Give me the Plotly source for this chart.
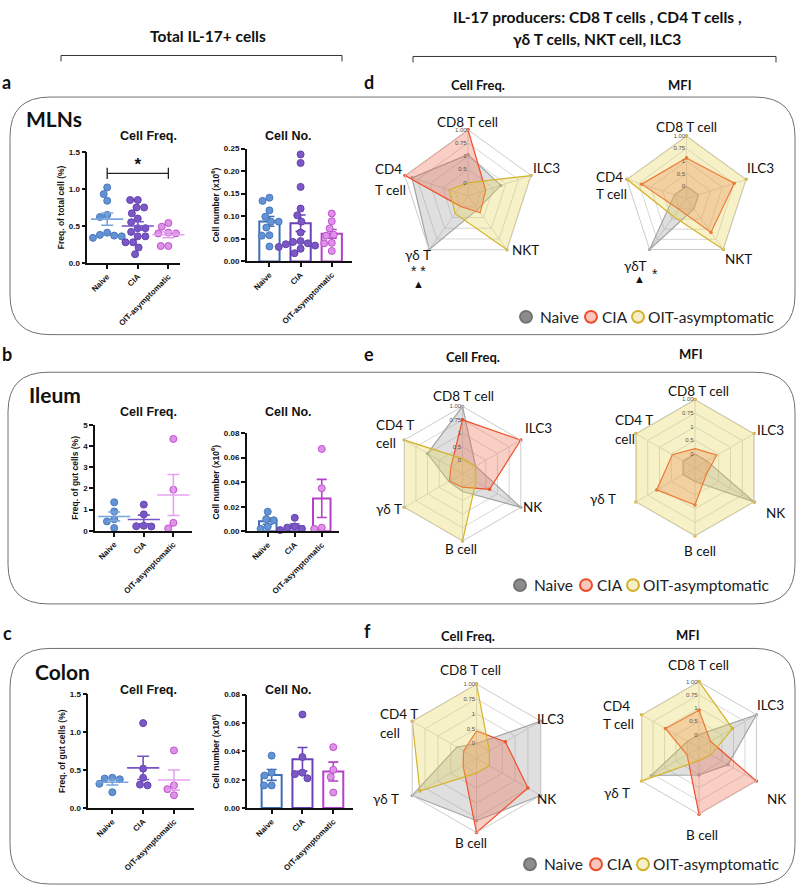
import numpy as np
import plotly.graph_objects as go

W, H = 800, 893
ARIAL = "Arial, 'Liberation Sans', sans-serif"
CAL = "Lato, 'Open Sans', sans-serif"

groups = ["Naive", "CIA", "OIT-asymptomatic"]

# ---------------- Total IL-17+ cells (dot / bar charts) ----------------
mln_freq_naive = [1.02, 0.93, 0.84, 0.65, 0.62, 0.41, 0.38, 0.37, 0.36, 0.34]
mln_freq_cia = [0.85, 0.85, 0.75, 0.75, 0.67, 0.60, 0.55, 0.47, 0.47, 0.42, 0.36, 0.36, 0.28, 0.28, 0.21, 0.12]
mln_freq_oit = [0.54, 0.49, 0.41, 0.40, 0.40, 0.35, 0.23, 0.23]
mln_num_naive = [0.141, 0.134, 0.113, 0.099, 0.088, 0.088, 0.075, 0.058, 0.057, 0.033]
mln_num_cia = [0.237, 0.218, 0.165, 0.117, 0.102, 0.088, 0.064, 0.045, 0.043, 0.040, 0.038, 0.035, 0.032, 0.028, 0.018]
mln_num_oit = [0.106, 0.089, 0.073, 0.059, 0.057, 0.041, 0.040, 0.023]
ileum_freq_naive = [1.35, 0.92, 0.55, 0.45, 0.14]
ileum_freq_cia = [1.24, 0.78, 0.25, 0.22, 0.21]
ileum_freq_oit = [4.33, 1.94, 0.38, 0.12]
ileum_num_naive = [0.016, 0.010, 0.009, 0.004, 0.002]
ileum_num_cia = [0.011, 0.004, 0.003, 0.002, 0.001]
ileum_num_oit = [0.067, 0.035, 0.003, 0.002]
colon_freq_naive = [0.40, 0.39, 0.38, 0.32, 0.21]
colon_freq_cia = [1.12, 0.52, 0.40, 0.31, 0.30]
colon_freq_oit = [0.76, 0.30, 0.25, 0.17]
colon_num_naive = [0.037, 0.025, 0.023, 0.016, 0.016]
colon_num_cia = [0.066, 0.036, 0.025, 0.024, 0.021]
colon_num_oit = [0.043, 0.027, 0.022, 0.011]

sig_pair = [0, 2]
sig_level = 1.21
sig_star_level = 1.31
sig_text = "*"

# ---------------- IL-17 producers (radar charts) ----------------
cats5 = ["CD8 T cell", "ILC3", "NKT", "γδ T", "CD4 T cell"]
cats6 = ["CD8 T cell", "ILC3", "NK", "B cell", "γδ T", "CD4 T cell"]
radial_tickvals = [0, 0.25, 0.5, 0.75, 1.0]
radial_ticktext = ["0", "0.5", "1", "0.75", "1.00"]

d_freq_naive = [0.53, 0.40, 0.06, 1.00, 0.86]
d_freq_cia = [1.00, 0.10, 0.14, -0.01, 1.00]
d_freq_oit = [0.00, 1.00, 1.00, 0.16, 0.12]
d_mfi_naive = [0.00, 0.00, 0.00, 1.00, 0.00]
d_mfi_cia = [0.56, 0.75, 0.58, 0.01, 0.69]
d_mfi_oit = [1.00, 1.00, 1.00, 0.19, 1.00]
e_freq_naive = [1.00, 0.03, 1.00, 0.08, 0.04, 0.50]
e_freq_cia = [0.75, 1.00, 0.33, 0.00, 0.03, 0.00]
e_freq_oit = [0.03, 0.03, 0.04, 1.00, 1.00, 1.00]
e_mfi_naive = [0.00, 0.00, 1.00, 0.00, 0.00, 0.00]
e_mfi_cia = [0.10, 0.21, -0.01, 0.43, 0.56, 0.23]
e_mfi_oit = [1.00, 1.00, 1.00, 1.00, 1.00, 1.00]
f_freq_naive = [0.00, 1.00, 1.00, 0.80, 1.00, 0.13]
f_freq_cia = [0.21, 0.31, 0.75, 1.00, 0.01, 0.00]
f_freq_oit = [1.00, 0.00, 0.00, 0.00, 0.85, 1.00]
f_mfi_naive = [0.00, 1.00, 0.38, 0.26, 0.79, 0.00]
f_mfi_cia = [0.46, 0.00, 1.00, 1.00, 0.01, 0.48]
f_mfi_oit = [1.00, 0.48, 0.01, -0.01, 1.00, 1.00]

# ---------------- styles ----------------
dot_fill = ["#6393d4", "#7b58c6", "#dd92e8"]
dot_edge = ["#4a78bd", "#6242ad", "#c24fd0"]
mean_col = ["#79a5df", "#7754c6", "#e6a2f1"]
bar_col = ["#3f6db6", "#6a42b8", "#b540ca"]

R_LINE = {"Naive": "#a3a3a3", "CIA": "#ef4f2b", "OIT-asymptomatic": "#d5b22c"}
R_FILL = {"Naive": "rgba(150,150,150,0.30)", "CIA": "rgba(238,105,75,0.33)",
          "OIT-asymptomatic": "rgba(232,214,85,0.33)"}
LEG_FILL = {"Naive": "#8c8c8c", "CIA": "#f8c6ba", "OIT-asymptomatic": "#f5efc6"}
LEG_EDGE = {"Naive": "#737373", "CIA": "#ee4a28", "OIT-asymptomatic": "#d3b12c"}


def fx(px):
    return px / W


def fy(py):
    return 1 - py / H


cart_panels = [
    dict(kind="dot", data=[mln_freq_naive, mln_freq_cia, mln_freq_oit], x0=87.3, x1=180, yt=149.3, yb=261.7,
         yr=[0, 1.5], dt=0.5, fmt=".1f", xr=[-0.65, 2.38], title="Freq. of total cell (%)", sub="Cell Freq."),
    dict(kind="bar", data=[mln_num_naive, mln_num_cia, mln_num_oit], x0=246.7, x1=351.7, yt=146, yb=260,
         yr=[0, 0.25], dt=0.05, fmt=".2f", xr=[-0.73, 2.64], title="Cell number (x10<sup>6</sup>)", sub="Cell No."),
    dict(kind="dot", data=[ileum_freq_naive, ileum_freq_cia, ileum_freq_oit], x0=95, x1=191.7, yt=425, yb=532.3,
         yr=[0, 5], dt=1, fmt="d", xr=[-0.65, 2.62], title="Freq. of gut cells (%)", sub="Cell Freq."),
    dict(kind="bar", data=[ileum_num_naive, ileum_num_cia, ileum_num_oit], x0=246.7, x1=339.3, yt=433.3, yb=532.7,
         yr=[0, 0.08], dt=0.02, fmt=".2f", xr=[-0.78, 2.65], title="Cell number (x10<sup>6</sup>)", sub="Cell No."),
    dict(kind="dot", data=[colon_freq_naive, colon_freq_cia, colon_freq_oit], x0=88.3, x1=194.3, yt=697.3, yb=812.3,
         yr=[0, 1.5], dt=0.5, fmt=".1f", xr=[-0.78, 2.66], title="Freq. of gut cells (%)", sub="Cell Freq."),
    dict(kind="bar", data=[colon_num_naive, colon_num_cia, colon_num_oit], x0=247.3, x1=353.3, yt=697.7, yb=812.3,
         yr=[0, 0.08], dt=0.02, fmt=".2f", xr=[-0.79, 2.65], title="Cell number (x10<sup>6</sup>)", sub="Cell No."),
]
sub_title_pos = [(148, 133), (288, 133), (148, 412), (288, 412), (148, 693), (288, 693)]


def swarm(vals, ppu_y, ppu_x, d):
    vals = np.asarray(vals, float)
    placed = []
    offs = np.zeros(len(vals))
    for i in np.argsort(-vals):
        y = vals[i] * ppu_y
        cands = [0.0]
        for (px, py) in placed:
            dy = abs(y - py)
            if dy < d:
                dx = np.sqrt(d * d - dy * dy)
                cands += [px + dx, px - dx]
        cands = sorted(cands, key=lambda c: (abs(c), c))
        for c in cands:
            if all((c - px) ** 2 + (y - py) ** 2 >= d * d * 0.98 for px, py in placed):
                break
        placed.append((c, y))
        offs[i] = c / ppu_x
    return offs


fig = go.Figure()
layout = dict(width=W, height=H, margin=dict(l=0, r=0, t=0, b=0), paper_bgcolor="white",
              plot_bgcolor="rgba(0,0,0,0)", showlegend=False)
annotations = []
shapes = []

for k, p in enumerate(cart_panels, start=1):
    xa = "x" if k == 1 else f"x{k}"
    ya = "y" if k == 1 else f"y{k}"
    ppu_y = (p["yb"] - p["yt"]) / (p["yr"][1] - p["yr"][0])
    ppu_x = (p["x1"] - p["x0"]) / (p["xr"][1] - p["xr"][0])
    for g, vals in enumerate(p["data"]):
        arr = np.asarray(vals, float)
        m = arr.mean()
        sem = arr.std(ddof=1) / np.sqrt(len(arr))
        if p["kind"] == "bar":
            fig.add_trace(go.Bar(x=[g], y=[m], xaxis=xa, yaxis=ya, width=0.65,
                                 marker=dict(color="rgba(255,255,255,0)", line=dict(color=bar_col[g], width=2)),
                                 error_y=dict(type="data", array=[sem], color=bar_col[g], thickness=1.6, width=5),
                                 showlegend=False, hoverinfo="skip"))
        offs = swarm(arr, ppu_y, ppu_x, 7.6)
        fig.add_trace(go.Scatter(x=g + offs, y=arr, xaxis=xa, yaxis=ya, mode="markers", cliponaxis=False,
                                 marker=dict(size=7, color=dot_fill[g], line=dict(color=dot_edge[g], width=1)),
                                 showlegend=False, hoverinfo="skip"))
        if p["kind"] == "dot":
            fig.add_trace(go.Scatter(x=[g], y=[m], xaxis=xa, yaxis=ya, mode="markers", cliponaxis=False,
                                     marker=dict(symbol="line-ew", size=23, line=dict(color=mean_col[g], width=1.6)),
                                     error_y=dict(type="data", array=[sem], color=mean_col[g], thickness=1.6, width=6),
                                     showlegend=False, hoverinfo="skip"))
    if k == 1:
        fig.add_trace(go.Scatter(x=sig_pair, y=[sig_level] * 2, xaxis=xa, yaxis=ya, mode="lines+markers",
                                 line=dict(color="#222", width=1.3),
                                 marker=dict(symbol="line-ns", size=8, line=dict(color="#222", width=1.3)),
                                 showlegend=False, hoverinfo="skip", cliponaxis=False))
        fig.add_trace(go.Scatter(x=[np.mean(sig_pair)], y=[sig_star_level], xaxis=xa, yaxis=ya, mode="text",
                                 text=[sig_text], textfont=dict(size=17, family=ARIAL, color="#111", weight="bold"),
                                 showlegend=False, hoverinfo="skip", cliponaxis=False))
    xkey = "xaxis" if k == 1 else f"xaxis{k}"
    ykey = "yaxis" if k == 1 else f"yaxis{k}"
    layout[xkey] = dict(domain=[fx(p["x0"]), fx(p["x1"])], range=p["xr"], anchor=ya, showline=True,
                        linecolor="#111", linewidth=1.5, tickmode="array", tickvals=[0, 1, 2], ticktext=groups,
                        tickangle=-45, ticks="outside", ticklen=4, tickwidth=1.5, tickcolor="#111",
                        tickfont=dict(size=8, family=ARIAL, color="#111", weight="bold"),
                        showgrid=False, zeroline=False, fixedrange=True)
    layout[ykey] = dict(domain=[fy(p["yb"]), fy(p["yt"])], range=p["yr"], anchor=xa, showline=True,
                        linecolor="#111", linewidth=1.5, tick0=0, dtick=p["dt"], tickformat=p["fmt"],
                        ticks="outside", ticklen=4, tickwidth=1.5, tickcolor="#111",
                        tickfont=dict(size=8, family=ARIAL, color="#111", weight="bold"),
                        title=dict(text=p["title"], standoff=3,
                                   font=dict(size=8.5, family=ARIAL, color="#111", weight="bold")),
                        showgrid=False, zeroline=False, fixedrange=True)
    sx, sy = sub_title_pos[k - 1]
    annotations.append(dict(text=p["sub"], x=fx(sx), y=fy(sy), xref="paper", yref="paper", showarrow=False,
                            xanchor="center", yanchor="middle",
                            font=dict(size=12.5, family=ARIAL, color="#111", weight="bold")))

# ---------------- radar charts ----------------
radar_panels = [
    dict(cats=cats5, data=[d_freq_naive, d_freq_cia, d_freq_oit], c=(468, 194), R=67),
    dict(cats=cats5, data=[d_mfi_naive, d_mfi_cia, d_mfi_oit], c=(686.5, 196.7), R=63.4),
    dict(cats=cats6, data=[e_freq_naive, e_freq_cia, e_freq_oit], c=(462.5, 474.5), R=68),
    dict(cats=cats6, data=[e_mfi_naive, e_mfi_cia, e_mfi_oit], c=(695, 468.5), R=69),
    dict(cats=cats6, data=[f_freq_naive, f_freq_cia, f_freq_oit], c=(476.5, 762), R=75),
    dict(cats=cats6, data=[f_mfi_naive, f_mfi_cia, f_mfi_oit], c=(699, 751.5), R=67),
]

for k, p in enumerate(radar_panels, start=1):
    sub = "polar" if k == 1 else f"polar{k}"
    cx, cy = p["c"]
    R = p["R"]
    for g, vals in enumerate(p["data"]):
        name = groups[g]
        r = list(vals) + [vals[0]]
        th = list(p["cats"]) + [p["cats"][0]]
        fig.add_trace(go.Scatterpolar(r=r, theta=th, subplot=sub, mode="lines+markers", fill="toself",
                                      fillcolor=R_FILL[name], line=dict(color=R_LINE[name], width=1.2),
                                      marker=dict(size=3.5, color=R_LINE[name]), showlegend=False,
                                      hoverinfo="skip"))
    layout[sub] = dict(
        domain=dict(x=[fx(cx - R), fx(cx + R)], y=[fy(cy + R), fy(cy - R)]),
        bgcolor="rgba(0,0,0,0)", gridshape="linear",
        radialaxis=dict(range=[-0.25, 1], tickmode="array", tickvals=radial_tickvals, ticktext=radial_ticktext,
                        angle=90, tickangle=90, showline=False, ticks="", gridcolor="#d8d8d8", gridwidth=1,
                        side="counterclockwise", tickfont=dict(size=6, family=ARIAL, color="#555")),
        angularaxis=dict(direction="clockwise", rotation=90, showticklabels=False, ticks="",
                         gridcolor="#d8d8d8", linecolor="#cccccc", showline=True, linewidth=1),
    )

# radar axis labels, one entry per text line (text, x, y, xanchor)
radar_labels = [
    ("CD8 T cell", 467, 119, "center"), ("ILC3", 546, 166, "center"), ("NKT", 525, 249, "center"),
    ("γδ T", 418, 254, "center"), ("CD4", 373, 167, "left"), ("T cell", 373, 188, "left"),
    ("CD8 T cell", 686, 124, "center"), ("ILC3", 760, 166, "center"), ("NKT", 738, 258, "center"),
    ("γδT", 635, 265, "center"), ("CD4", 594, 175, "left"), ("T cell", 594, 192, "left"),
    ("CD8 T cell", 463, 396, "center"), ("ILC3", 538, 428, "center"), ("NK", 532, 508, "center"),
    ("B cell", 461, 551, "center"), ("γδ T", 389, 510, "center"), ("CD4 T", 374, 425, "left"),
    ("cell", 374, 443, "left"),
    ("CD8 T cell", 698, 391, "center"), ("ILC3", 770, 430, "center"), ("NK", 775, 514, "center"),
    ("B cell", 700, 553, "center"), ("γδ T", 603, 500, "center"), ("CD4 T", 613, 420, "left"),
    ("cell", 613, 439, "left"),
    ("CD8 T cell", 470, 673, "center"), ("ILC3", 550, 722, "center"), ("NK", 546, 803, "center"),
    ("B cell", 471, 848, "center"), ("γδ T", 386, 803, "center"), ("CD4 T", 378, 717, "left"),
    ("cell", 378, 736, "left"),
    ("CD8 T cell", 698, 668, "center"), ("ILC3", 770, 708, "center"), ("NK", 776, 803, "center"),
    ("B cell", 702, 839, "center"), ("γδ T", 617, 797, "center"), ("CD4", 601, 709, "left"),
    ("T cell", 601, 727, "left"),
]
for t, x, y, xa in radar_labels:
    annotations.append(dict(text=t, x=fx(x), y=fy(y), xref="paper", yref="paper", showarrow=False,
                            xanchor=xa, yanchor="middle",
                            font=dict(size=13.5, family=CAL, color="#111")))

# significance marks on radar
for t, x, y, s in [("* *", 418, 270, 14), ("▲", 418, 283, 11), ("▲", 639, 278, 11), ("*", 655, 273, 14)]:
    annotations.append(dict(text=t, x=fx(x), y=fy(y), xref="paper", yref="paper", showarrow=False,
                            xanchor="center", yanchor="middle", font=dict(size=s, family=ARIAL, color="#111")))

# headers, panel letters, region names, column titles
texts = [
    ("Total IL-17+ cells", 208, 32, 15.5, CAL, "bold"),
    ("IL-17 producers: CD8 T cells , CD4 T cells ,", 597, 13, 15.5, CAL, "bold"),
    ("γδ T cells, NKT cell, ILC3", 597, 35, 15.5, CAL, "bold"),
    ("Cell Freq.", 478, 82, 13, CAL, "bold"), ("MFI", 680, 82, 13, CAL, "bold"),
    ("Cell Freq.", 473, 357, 13, CAL, "bold"), ("MFI", 691, 354, 13, CAL, "bold"),
    ("Cell Freq.", 468, 638, 13, CAL, "bold"), ("MFI", 688, 637, 13, CAL, "bold"),
    ("a", 6, 79, 18, CAL, "bold"), ("d", 369, 79, 18, CAL, "bold"),
    ("b", 7, 354, 18, CAL, "bold"), ("e", 369, 354, 18, CAL, "bold"),
    ("c", 7, 635, 18, CAL, "bold"), ("f", 367, 633, 18, CAL, "bold"),
    ("MLNs", 54, 116, 21, CAL, "bold"), ("Ileum", 55, 394, 21, CAL, "bold"),
    ("Colon", 62, 674, 21, CAL, "bold"),
]
for t, x, y, s, fam, wgt in texts:
    annotations.append(dict(text=t, x=fx(x), y=fy(y), xref="paper", yref="paper", showarrow=False,
                            xanchor="center", yanchor="middle",
                            font=dict(size=s, family=fam, color="#111", weight=wgt)))


# rounded boxes and brackets
def rbox(x0, y0, x1, y1, r):
    pts = lambda x, y: f"{fx(x):.5f},{fy(y):.5f}"
    return (f"M {pts(x0 + r, y0)} L {pts(x1 - r, y0)} Q {pts(x1, y0)} {pts(x1, y0 + r)} "
            f"L {pts(x1, y1 - r)} Q {pts(x1, y1)} {pts(x1 - r, y1)} L {pts(x0 + r, y1)} "
            f"Q {pts(x0, y1)} {pts(x0, y1 - r)} L {pts(x0, y0 + r)} Q {pts(x0, y0)} {pts(x0 + r, y0)} Z")


for (x0, y0, x1, y1, r) in [(10, 94, 795, 334, 40), (8, 372, 795, 606, 40), (10, 651, 795, 889, 40)]:
    shapes.append(dict(type="path", path=rbox(x0, y0, x1, y1, r), xref="paper", yref="paper",
                       line=dict(color="#6f6f6f", width=1), fillcolor="rgba(0,0,0,0)", layer="below"))


def bracket(x0, x1, y, h):
    return (f"M {fx(x0):.5f},{fy(y + h):.5f} L {fx(x0):.5f},{fy(y):.5f} "
            f"L {fx(x1):.5f},{fy(y):.5f} L {fx(x1):.5f},{fy(y + h):.5f}")


for (x0, x1, y) in [(61, 342, 52), (413, 776, 53)]:
    shapes.append(dict(type="path", path=bracket(x0, x1, y, 6), xref="paper", yref="paper",
                       line=dict(color="#333", width=1)))

# legend keys, one row per radar row: (y, [circle x, text x] for each group)
legend_rows = [
    (316, [(526, 538), (591, 600), (638, 646)]),
    (587, [(520, 532), (586, 595), (633, 641)]),
    (869, [(530, 542), (596, 605), (643, 651)]),
]
rad = 6
for ly, items in legend_rows:
    for name, (cxp, txp) in zip(groups, items):
        shapes.append(dict(type="circle", xref="paper", yref="paper",
                           x0=fx(cxp - rad), x1=fx(cxp + rad), y0=fy(ly + rad), y1=fy(ly - rad),
                           fillcolor=LEG_FILL[name], line=dict(color=LEG_EDGE[name], width=2)))
        annotations.append(dict(text=name, x=fx(txp), y=fy(ly), xref="paper", yref="paper", showarrow=False,
                                xanchor="left", yanchor="middle",
                                font=dict(size=15.5, family=CAL, color="#222")))

layout["annotations"] = annotations
layout["shapes"] = shapes
fig.update_layout(**layout)

fig.write_html("out.html", config={"displayModeBar": False},
               post_script="document.body.style.margin='0';")
